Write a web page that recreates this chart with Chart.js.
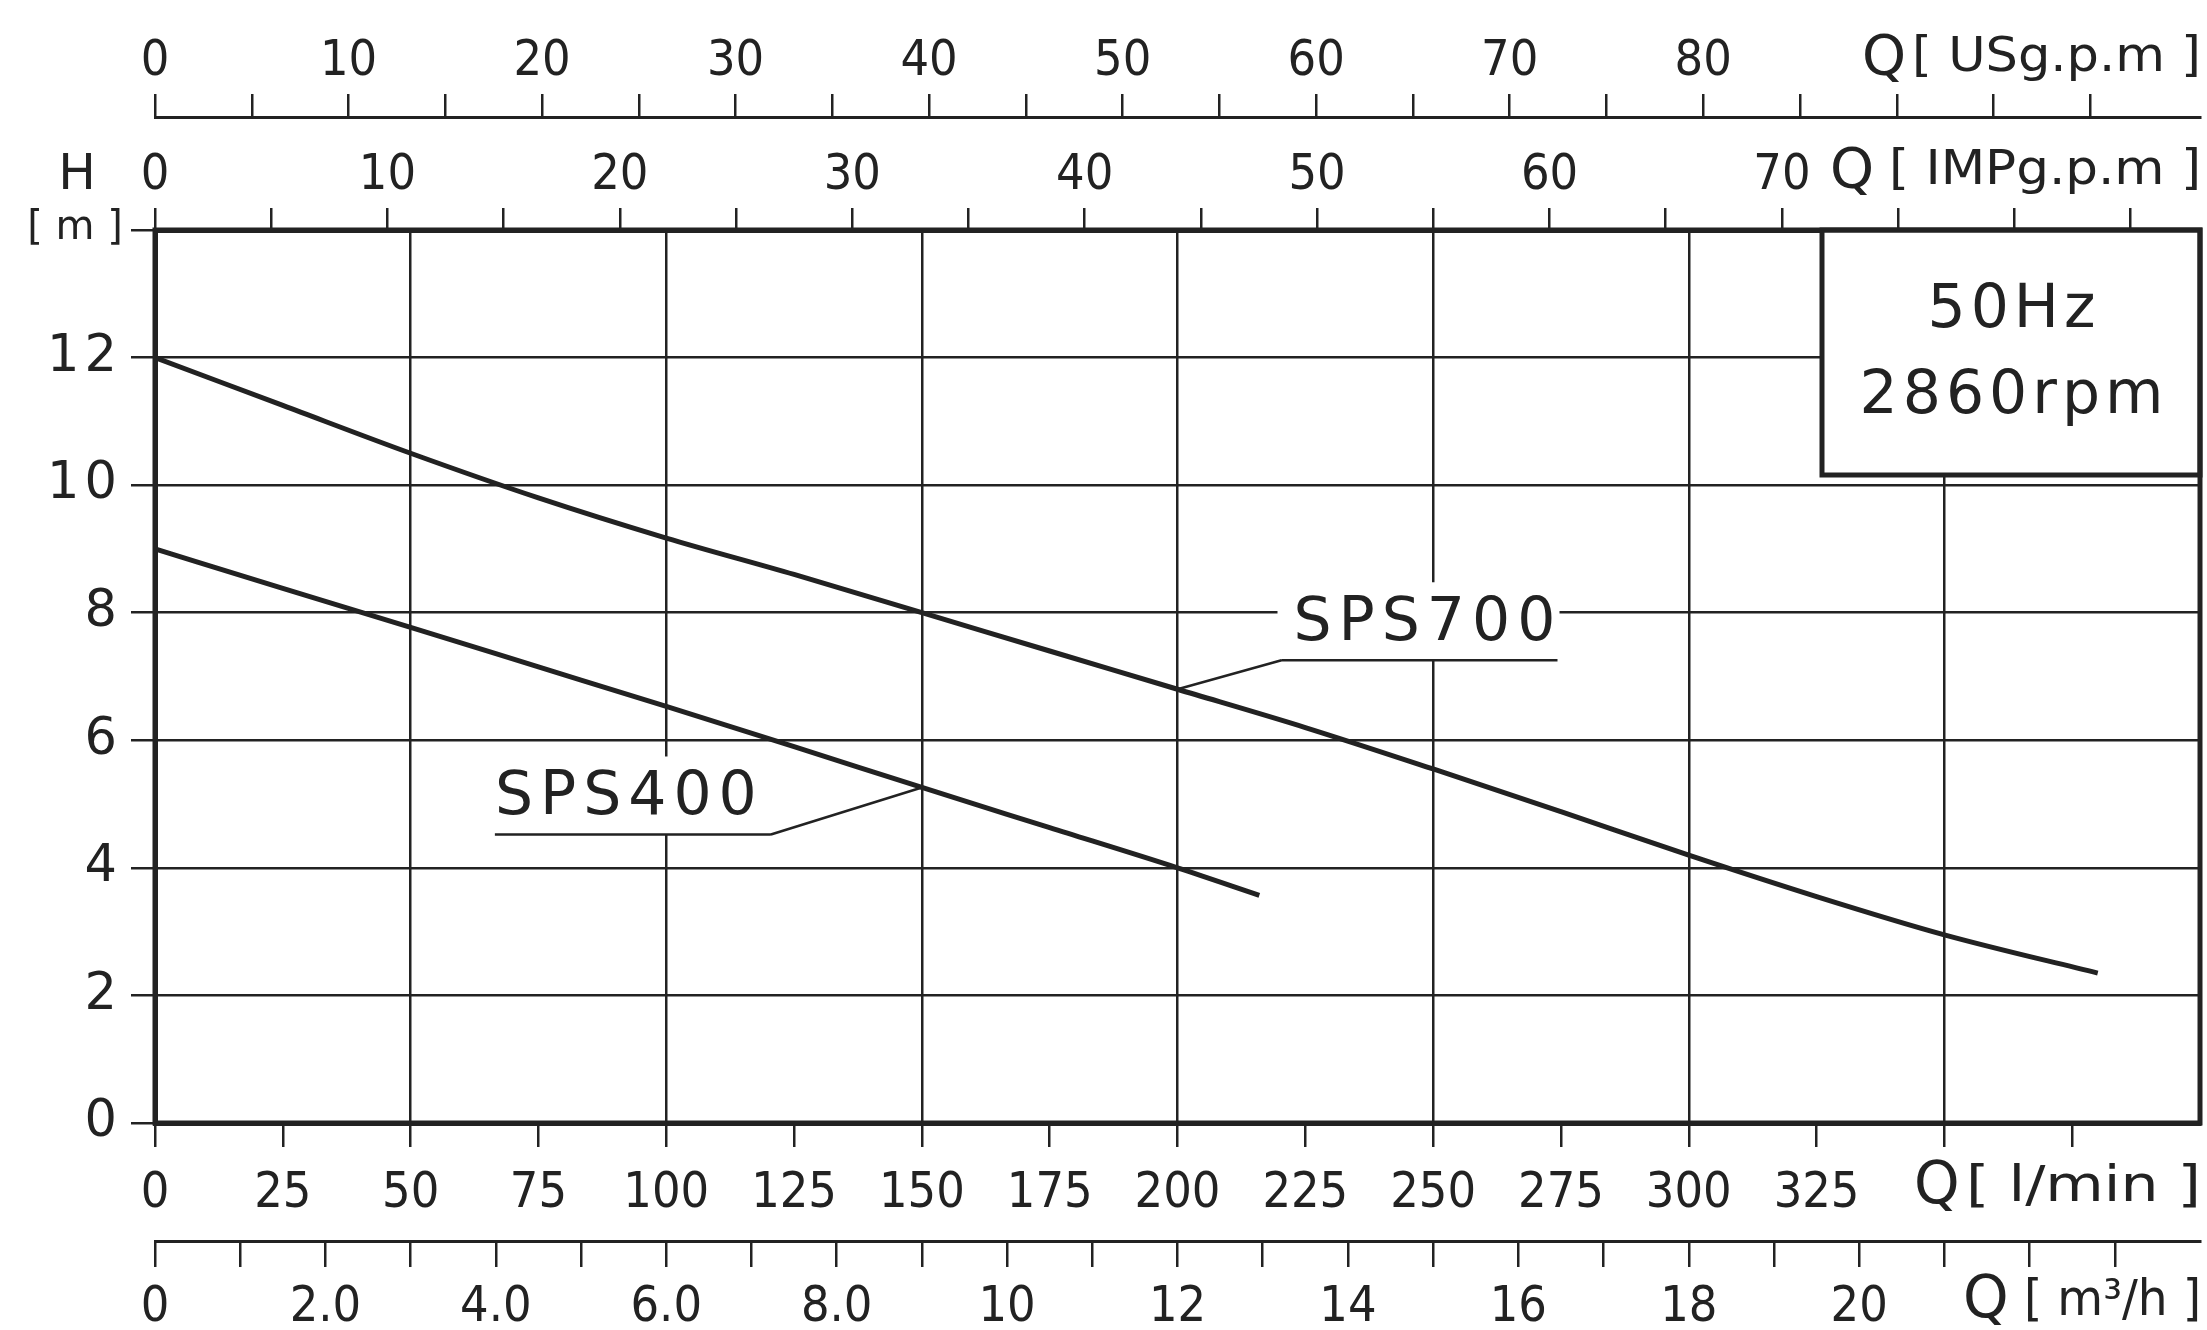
<!DOCTYPE html>
<html>
<head>
<meta charset="utf-8">
<title>SPS pump curves</title>
<script src="https://cdn.jsdelivr.net/npm/chart.js@4.4.1/dist/chart.umd.min.js"></script>
<style>
  html, body { margin: 0; padding: 0; background: #fff; }
</style>
</head>
<body>
<canvas id="pump" width="2207" height="1330"></canvas>
<script>
// pump curves: flow Q in l/min, head H in m
const sps700Q = [0, 25, 50, 75, 100, 125, 150, 175, 200, 225, 250, 275, 300, 325, 350, 380];
const sps700H = [12, 11.25, 10.5, 9.8, 9.17, 8.6, 8.0, 7.4, 6.8, 6.2, 5.55, 4.88, 4.2, 3.55, 2.95, 2.35];
const sps400Q = [0, 25, 50, 75, 100, 125, 150, 175, 200, 216];
const sps400H = [9, 8.38, 7.77, 7.15, 6.53, 5.9, 5.26, 4.63, 4.0, 3.57];

// axes
const headTicks  = [0, 2, 4, 6, 8, 10, 12, 14];
const headLabels = ['0', '2', '4', '6', '8', '10', '12', ''];
const lminTicks  = [0, 25, 50, 75, 100, 125, 150, 175, 200, 225, 250, 275, 300, 325, 350, 375];
const lminLabels = ['0', '25', '50', '75', '100', '125', '150', '175', '200', '225', '250', '275', '300', '325', '', ''];
const m3hTicks   = [0, 1, 2, 3, 4, 5, 6, 7, 8, 9, 10, 11, 12, 13, 14, 15, 16, 17, 18, 19, 20, 21, 22, 23];
const m3hLabelAt = [0, 2, 4, 6, 8, 10, 12, 14, 16, 18, 20];
const m3hLabels  = ['0', '2.0', '4.0', '6.0', '8.0', '10', '12', '14', '16', '18', '20'];
const usgTicks   = [0, 5, 10, 15, 20, 25, 30, 35, 40, 45, 50, 55, 60, 65, 70, 75, 80, 85, 90, 95, 100];
const usgLabelAt = [0, 10, 20, 30, 40, 50, 60, 70, 80];
const impTicks   = [0, 5, 10, 15, 20, 25, 30, 35, 40, 45, 50, 55, 60, 65, 70, 75, 80, 85];
const impLabelAt = [0, 10, 20, 30, 40, 50, 60, 70];

const Q_MAX = 400;          // l/min
const H_MAX = 14;           // m
const LPM_PER_USG = 3.78541;
const LPM_PER_IMP = 4.54609;
const LPM_PER_M3H = 1000 / 60;

const INK = '#222';
const NARROW = "'DejaVu Sans Condensed', 'DejaVu Sans', sans-serif";
const WIDE = "'DejaVu Sans', sans-serif";

function pts(qs, hs) {
    return qs.map((q, i) => ({ x: q, y: hs[i] }));
}

function fixedTicks(list) {
    return scale => { scale.ticks = list.map(v => ({ value: v })); };
}

function labelFrom(at, texts) {
    return v => {
        const i = at.indexOf(v);
        return i >= 0 ? (texts ? texts[i] : String(v)) : '';
    };
}

function setSize(prop, n) {
    return scale => { scale[prop] = n; };
}

// text with a white patch under it, underline and leader to the curve
function seriesTag(ctx, text, anchor, ulLeft, ulY, fromRight) {
    ctx.save();
    ctx.fillStyle = '#fff';
    ctx.fillRect(ulLeft - 4, ulY - 78, 282, 78);
    ctx.strokeStyle = INK;
    ctx.lineWidth = 2.5;
    ctx.beginPath();
    ctx.moveTo(ulLeft, ulY);
    ctx.lineTo(ulLeft + 276, ulY);
    const jx = fromRight ? ulLeft + 276 : ulLeft;
    ctx.moveTo(jx, ulY);
    ctx.lineTo(anchor.x, anchor.y);
    ctx.stroke();
    ctx.fillStyle = INK;
    ctx.font = '60px ' + WIDE;
    ctx.letterSpacing = '7px';
    ctx.textAlign = 'left';
    ctx.textBaseline = 'alphabetic';
    ctx.fillText(text, ulLeft + (fromRight ? 0 : 12), ulY - 20);
    ctx.restore();
}

// stretch the unit text to the width it has in the source sheet
function fitText(ctx, text, left, right, cy, font) {
    ctx.save();
    ctx.font = font;
    ctx.textAlign = 'left';
    ctx.textBaseline = 'middle';
    const w = ctx.measureText(text).width;
    ctx.translate(left, cy);
    ctx.scale((right - left) / w, 1);
    ctx.fillText(text, 0, 0);
    ctx.restore();
}

function unitLabel(ctx, qLeft, unit, uLeft, uRight, cy, qSize, uSize) {
    ctx.save();
    ctx.fillStyle = INK;
    ctx.textBaseline = 'middle';
    ctx.textAlign = 'left';
    ctx.font = qSize + 'px ' + WIDE;
    ctx.fillText('Q', qLeft, cy);
    fitText(ctx, unit, uLeft, uRight, cy, uSize + 'px ' + NARROW);
    ctx.restore();
}

const overlay = {
    id: 'overlay',
    beforeDraw(chart) {
        // head numbers are set wide in the source
        const s = chart.scales.y;
        if (!s._wide) {
            const orig = s.drawLabels.bind(s);
            s.drawLabels = area => {
                s.ctx.save();
                s.ctx.letterSpacing = '5px';
                orig(area);
                s.ctx.restore();
            };
            s._wide = true;
        }
    },
    afterDatasetsDraw(chart) {
        const { ctx, chartArea: a, scales: { x, y } } = chart;

        // rating box
        ctx.save();
        ctx.fillStyle = '#fff';
        ctx.strokeStyle = INK;
        ctx.lineWidth = 5;
        ctx.fillRect(a.right - 378, a.top, 378, 245);
        ctx.strokeRect(a.right - 378, a.top, 378, 245);
        ctx.fillStyle = INK;
        ctx.font = '60px ' + WIDE;
        ctx.letterSpacing = '5px';
        ctx.textAlign = 'center';
        ctx.textBaseline = 'alphabetic';
        const bx = a.right - 189 + 3;
        ctx.fillText('50Hz', bx, a.top + 97);
        ctx.fillText('2860rpm', bx, a.top + 183);
        ctx.restore();

        // curve tags
        const i7 = sps700Q.indexOf(200);
        const p7 = { x: x.getPixelForValue(sps700Q[i7]), y: y.getPixelForValue(sps700H[i7]) };
        seriesTag(ctx, 'SPS700', p7, p7.x + 104, p7.y - 29, false);
        const i4 = sps400Q.indexOf(150);
        const p4 = { x: x.getPixelForValue(sps400Q[i4]), y: y.getPixelForValue(sps400H[i4]) };
        seriesTag(ctx, 'SPS400', p4, p4.x - 151 - 276, p4.y + 47, true);
    },
    afterDraw(chart) {
        const { ctx, chartArea: a } = chart;
        ctx.save();
        ctx.strokeStyle = INK;
        ctx.lineWidth = 5;
        ctx.strokeRect(a.left, a.top, a.right - a.left, a.bottom - a.top);
        ctx.restore();

        unitLabel(ctx, 1862, '[ USg.p.m ]', 1912, 2201, 59, 56, 48);
        unitLabel(ctx, 1830, '[ IMPg.p.m ]', 1889, 2201, 172, 56, 48);
        unitLabel(ctx, 1914, '[ l/min ]', 1966, 2201, 1188, 58, 50);
        unitLabel(ctx, 1963, '[ m³/h ]', 2024, 2201, 1302, 58, 50);

        ctx.save();
        ctx.fillStyle = INK;
        ctx.textAlign = 'center';
        ctx.textBaseline = 'middle';
        ctx.font = '50px ' + WIDE;
        ctx.fillText('H', 77, 176);
        ctx.font = '40px ' + WIDE;
        ctx.fillText('[ m ]', 75, 229);
        ctx.restore();
    }
};

const tickFont = { family: NARROW, size: 50 };
const axisGrid = { drawOnChartArea: false, color: INK, lineWidth: 2.5 };

new Chart(document.getElementById('pump'), {
    type: 'line',
    data: {
        datasets: [
            {
                label: 'SPS700',
                data: pts(sps700Q, sps700H),
                borderColor: INK,
                borderWidth: 5,
                pointRadius: 0,
                cubicInterpolationMode: 'monotone',
                xAxisID: 'x',
                yAxisID: 'y'
            },
            {
                label: 'SPS400',
                data: pts(sps400Q, sps400H),
                borderColor: INK,
                borderWidth: 5,
                pointRadius: 0,
                cubicInterpolationMode: 'monotone',
                xAxisID: 'x',
                yAxisID: 'y'
            }
        ]
    },
    options: {
        responsive: false,
        animation: false,
        layout: { padding: { left: 0, right: 7, top: 0, bottom: 0 } },
        plugins: { legend: { display: false }, tooltip: { enabled: false } },
        scales: {
            x: {
                type: 'linear', position: 'bottom', weight: 0,
                min: 0, max: Q_MAX,
                afterBuildTicks: fixedTicks(lminTicks),
                afterFit: setSize('height', 118),
                ticks: {
                    autoSkip: false, maxRotation: 0, padding: 17, color: INK, font: tickFont,
                    callback: (v, i) => lminLabels[i]
                },
                grid: {
                    color: c => (c.tick && c.tick.value % 50 === 0 ? INK : 'rgba(0,0,0,0)'),
                    tickColor: INK, lineWidth: 2.5, tickLength: 24
                },
                border: { color: INK, width: 5 }
            },
            m3h: {
                type: 'linear', position: 'bottom', weight: 1,
                min: 0, max: Q_MAX / LPM_PER_M3H,
                afterBuildTicks: fixedTicks(m3hTicks),
                afterFit: setSize('height', 89),
                ticks: {
                    autoSkip: false, maxRotation: 0, padding: 11, color: INK, font: tickFont,
                    callback: labelFrom(m3hLabelAt, m3hLabels)
                },
                grid: Object.assign({ tickLength: 26 }, axisGrid),
                border: { color: INK, width: 3 }
            },
            imp: {
                type: 'linear', position: 'top', weight: 0,
                min: 0, max: Q_MAX / LPM_PER_IMP,
                afterBuildTicks: fixedTicks(impTicks),
                afterFit: setSize('height', 113),
                ticks: {
                    autoSkip: false, maxRotation: 0, padding: 2, color: INK, font: tickFont,
                    callback: labelFrom(impLabelAt)
                },
                grid: Object.assign({ tickLength: 22 }, axisGrid),
                border: { color: INK, width: 5 }
            },
            usg: {
                type: 'linear', position: 'top', weight: 1,
                min: 0, max: Q_MAX / LPM_PER_USG,
                afterBuildTicks: fixedTicks(usgTicks),
                afterFit: setSize('height', 117),
                ticks: {
                    autoSkip: false, maxRotation: 0, padding: 2, color: INK, font: tickFont,
                    callback: labelFrom(usgLabelAt)
                },
                grid: Object.assign({ tickLength: 23 }, axisGrid),
                border: { color: INK, width: 3 }
            },
            y: {
                type: 'linear', position: 'left',
                min: 0, max: H_MAX,
                afterBuildTicks: fixedTicks(headTicks),
                afterFit: setSize('width', 155),
                ticks: {
                    padding: 9, color: INK, font: { family: WIDE, size: 51 },
                    callback: (v, i) => headLabels[i]
                },
                grid: { color: INK, lineWidth: 2.5, tickLength: 24 },
                border: { color: INK, width: 5 }
            }
        }
    },
    plugins: [overlay]
});
</script>
</body>
</html>
